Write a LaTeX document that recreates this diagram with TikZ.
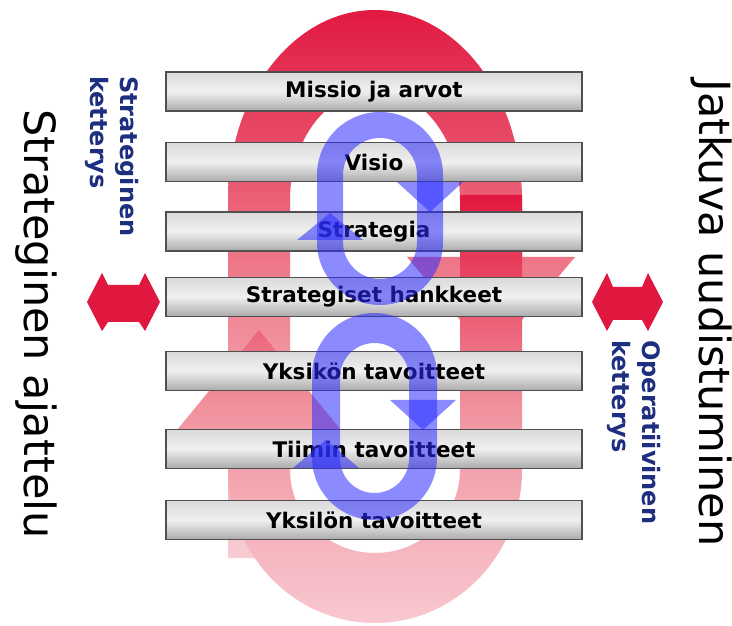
\documentclass[tikz,border=0pt]{standalone}
\usepackage{fontspec}
\setmainfont{DejaVu Sans}
\definecolor{crim}{HTML}{E0173F}
\definecolor{redTop}{HTML}{E11A42}
\definecolor{redMidA}{HTML}{EF7F8F}
\definecolor{redBotA}{HTML}{F8CDD4}
\definecolor{redTopB}{HTML}{E3173F}
\definecolor{redMidB}{HTML}{F1939F}
\definecolor{redBotB}{HTML}{F8C8D0}
\definecolor{barTop}{HTML}{DADADA}
\definecolor{barMid}{HTML}{F0F0F0}
\definecolor{barBot}{HTML}{ABABAB}
\definecolor{barLine}{HTML}{505050}
\definecolor{loopBlue}{RGB}{45,45,255}
\definecolor{navy}{HTML}{1F2F80}
\begin{document}
\begin{tikzpicture}[x=1pt,y=1pt,
  bar/.style={draw=barLine, line width=1.1pt, top color=barTop, bottom color=barBot, middle color=barMid,
    minimum width=416pt, minimum height=39pt, inner sep=0pt,
    font=\fontsize{21.5}{24}\selectfont\bfseries, text=black},
  blueshape/.style={fill=loopBlue, fill opacity=0.55},
  dblarrow/.style={fill=crim},
  bigtext/.style={rotate=-90, inner sep=0pt, text=black, font=\fontsize{43}{50}\selectfont},
  smalltext/.style={rotate=-90, inner sep=0pt, anchor=north west, align=left, text=navy,
    font=\fontsize{24}{30}\selectfont\bfseries}]
\useasboundingbox (0,0) rectangle (732,625);
\fill[white] (0,0) rectangle (732,625);

% upper red circular arrow
\shade[top color=redTop, bottom color=redBotA, middle color=redMidA]
  (228,67) -- (228,425) arc[start angle=180, end angle=0, x radius=147, y radius=190]
  -- (522,368) -- (575,368) -- (491,268) -- (407,368) -- (460,368) -- (460,425)
  arc[start angle=0, end angle=180, x radius=85, y radius=110] -- (290,67) -- cycle;

% lower red circular arrow
\shade[top color=redTopB, bottom color=redBotB, middle color=redMidB]
  (460,430) -- (460,155) arc[start angle=0, end angle=-180, x radius=85, y radius=83]
  -- (290,195) -- (341,195) -- (259,295) -- (177,195) -- (228,195) -- (228,155)
  arc[start angle=180, end angle=360, x radius=147, y radius=153] -- (522,430) -- cycle;

% bars
\node[bar] (b1) at (374,533.5) {Missio ja arvot};
\node[bar] (b2) at (374,463) {Visio};
\node[bar] (b3) at (374,393.5) {Strategia};
\node[bar] (b4) at (374,328) {Strategiset hankkeet};
\node[bar] (b5) at (374,254) {Yksikön tavoitteet};
\node[bar] (b6) at (374,176) {Tiimin tavoitteet};
\node[bar] (b7) at (374,105) {Yksilön tavoitteet};

% blue loops
\fill[blueshape, even odd rule]
  [rounded corners=62.9pt] (317,320) rectangle (443,513)
  [rounded corners=36.9pt] (343,346) rectangle (417,487);
\fill[blueshape] (397,443) -- (463,443) -- (430,413) -- cycle;
\fill[blueshape] (297,385) -- (363,385) -- (330,412) -- cycle;

\fill[blueshape, even odd rule]
  [rounded corners=62.4pt] (312,105) rectangle (437,312)
  [rounded corners=34.4pt] (340,132) rectangle (409,282);
\fill[blueshape] (390,225) -- (456,225) -- (423,195) -- cycle;
\fill[blueshape] (293,157) -- (359,157) -- (326,185) -- cycle;

% double arrows
\fill[dblarrow] (87,323) -- (102,352) -- (108,340) -- (139,340) -- (145,352) -- (160,323)
  -- (145,294) -- (139,303) -- (108,303) -- (102,294) -- cycle;
\fill[dblarrow] (592,323) -- (607,352) -- (613,338) -- (642,338) -- (648,352) -- (663,323)
  -- (648,294) -- (642,305) -- (613,305) -- (607,294) -- cycle;

% side texts
\node[bigtext] (lt) at (36,301) {Strateginen ajattelu};
\node[bigtext] (rt) at (712,312) {Jatkuva uudistuminen};
\node[smalltext] (lb) at (139,549) {Strateginen\\ketterys};
\node[smalltext] (rb) at (661,285) {Operatiivinen\\ketterys};
\end{tikzpicture}
\end{document}
